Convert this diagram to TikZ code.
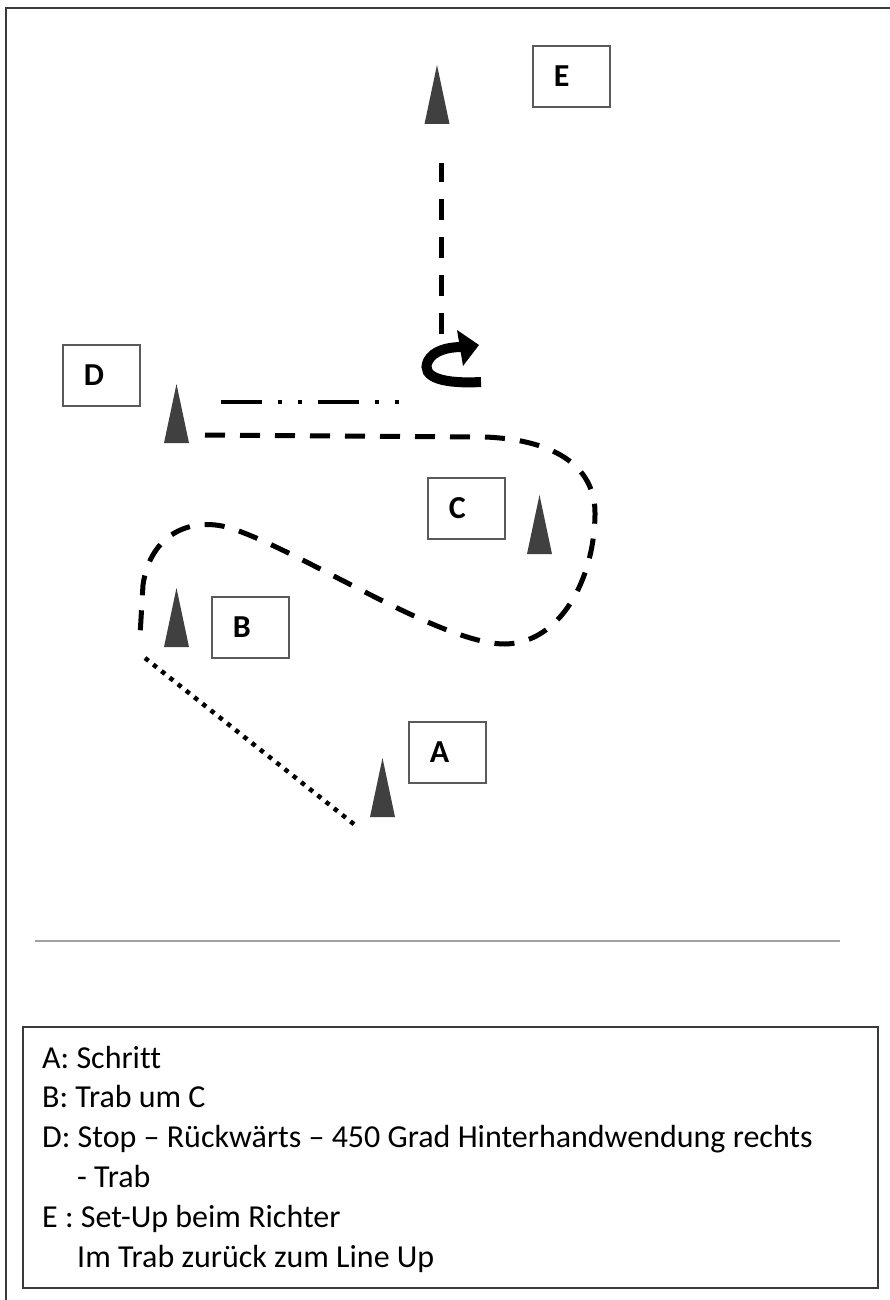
\documentclass[tikz,border=0pt]{standalone}
\usepackage{fontspec}
\setmainfont{Carlito}[Ligatures=NoCommon]
\definecolor{conegray}{HTML}{404040}
\definecolor{boxgray}{HTML}{5A5A5A}
\definecolor{framegray}{HTML}{3A3A3A}
\definecolor{sepgray}{HTML}{A0A0A0}
\begin{document}
\begin{tikzpicture}[x=1pt,y=-1pt,
  markbox/.style={draw=boxgray, line width=1.6pt, minimum width=77pt, minimum height=61pt,
    text width=35pt, inner xsep=21pt, inner ysep=0pt, align=left,
    font=\fontsize{32}{36}\selectfont\bfseries, anchor=north west},
  legendline/.style={anchor=base west, inner sep=0pt, font=\fontsize{32}{38}\selectfont},
  routedash/.style={line width=5pt, dash pattern=on 20pt off 15pt},
  exitdash/.style={line width=5pt, dash pattern=on 21pt off 17pt},
  backdash/.style={line width=4.5pt, dash pattern=on 41pt off 16pt on 4pt off 16pt on 4pt off 16pt},
  walkdot/.style={line width=4.5pt, dash pattern=on 4.5pt off 6pt},
  cone/.pic={\fill[conegray] (0,-59) -- (12.5,0) -- (-12.5,0) -- cycle;}
]
\useasboundingbox (0,0) rectangle (890,1300);
\fill[white] (0,0) rectangle (890,1300);
\draw[framegray, line width=2pt] (6,8) rectangle (892,1303);

% letter boxes
\node[markbox] (E) at (532,45) {E};
\node[markbox] (D) at (62,344) {D};
\node[markbox] (C) at (427,477) {C};
\node[markbox] (B) at (211,596) {B};
\node[markbox] (A) at (408,721) {A};

% cones
\pic at (437,124) {cone};
\pic at (176.5,443) {cone};
\pic at (539.5,554) {cone};
\pic at (176.5,647) {cone};
\pic at (382.5,817) {cone};

% route coordinates
\coordinate (walkS) at (145,658);
\coordinate (walkE) at (355,825);
\coordinate (trotS) at (205,435);
\coordinate (trotE) at (140,636);
\coordinate (backS) at (221,402);
\coordinate (backE) at (400,402);
\coordinate (exitS) at (441,334);
\coordinate (exitE) at (441,163);

% walk (dotted)
\draw[walkdot] (walkS) -- (walkE);

% trot around C (dashed)
\draw[routedash] (trotS) -- (485,437)
  .. controls (560,440) and (596,470) .. (595,515)
  .. controls (594,580) and (560,643) .. (505,644)
  .. controls (440,644) and (300,550) .. (230,528)
  .. controls (190,516) and (150,535) .. (143,585)
  -- (trotE);

% backing up (dash-dot)
\draw[backdash] (backS) -- (backE);

% turn arrow
\draw[line width=10pt] (481,382) .. controls (445,384) and (420,378) .. (428,361)
  .. controls (433,351) and (447,347) .. (462,347);
\fill (457,330) -- (479,345) -- (463,366) -- cycle;

% trot to judge (dashed)
\draw[exitdash] (exitS) -- (exitE);

% separator
\draw[sepgray, line width=1.5pt] (35,941) -- (840,941);

% legend
\node[draw=framegray, line width=1.6pt, minimum width=855pt, minimum height=261pt,
  anchor=north west, inner sep=0pt] (legend) at (22,1026) {};
\node[legendline] (l1) at (42,1068) {A: Schritt};
\node[legendline] (l2) at (42,1107) {B: Trab um C};
\node[legendline] (l3) at (42,1147) {D: Stop – Rückwärts – 450 Grad Hinterhandwendung rechts};
\node[legendline] (l4) at (77,1187) {- Trab};
\node[legendline] (l5) at (42,1227) {E : Set-Up beim Richter};
\node[legendline] (l6) at (77,1267) {Im Trab zurück zum Line Up};
\end{tikzpicture}
\end{document}
